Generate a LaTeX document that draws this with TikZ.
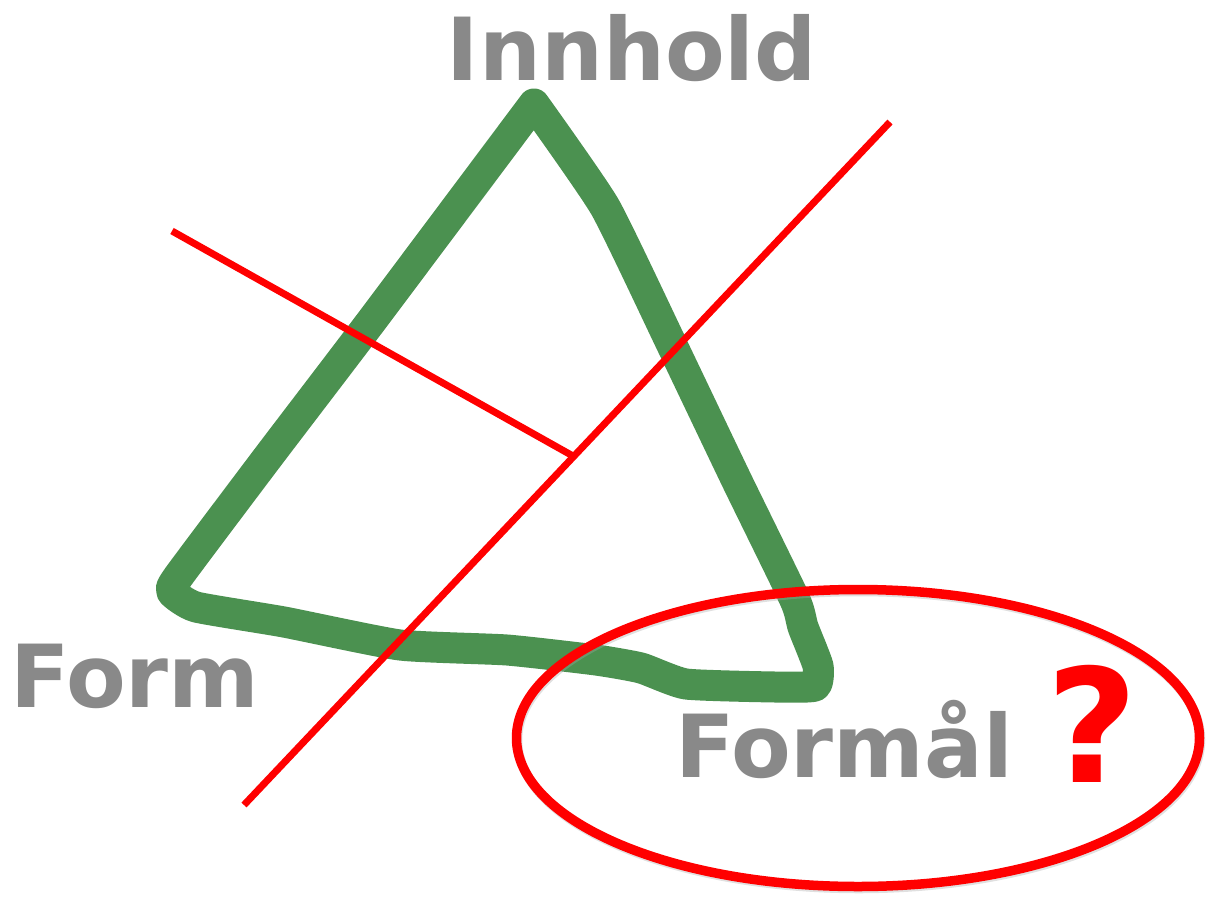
\documentclass[tikz,border=0pt]{standalone}
\usepackage{fontspec}
\setmainfont{DejaVu Sans}
\usetikzlibrary{shapes.geometric}
\definecolor{tgreen}{RGB}{75,145,80}
\definecolor{tgray}{RGB}{137,137,137}
\definecolor{tred}{RGB}{255,0,0}
\tikzset{
  lbl/.style={inner sep=0pt, text=tgray, font=\fontsize{87}{87}\selectfont\bfseries},
  shad/.style={preaction={draw=black!35, opacity=0.35, transform canvas={shift={(1pt,-2pt)}}}},
  redline/.style={draw=tred, line width=7pt, shad},
  tri/.style={draw=tgreen, line width=31pt, line join=round, line cap=round}
}
\begin{document}
\begin{tikzpicture}[x=1pt,y=-1pt]
\useasboundingbox (0,0) rectangle (1210,902);
% green triangle
\draw[tri] plot[smooth, tension=0.3] coordinates {
  (534,104) (370,323) (268,457) (178,577) (172,592) (196,607)
  (284,622) (400,645) (507,650) (596,660) (641,668) (686,684) (775,687)
  (815,686) (818,666) (803,627) (795,600) (736,479) (671,343) (605,207) (534,104)};
% red lines
\coordinate (a1) at (172,231);
\coordinate (a2) at (573,456);
\coordinate (b1) at (890,122);
\coordinate (b2) at (244,805);
\draw[redline] (a1) -- (a2);
\draw[redline] (b1) -- (b2);
% red ellipse
\node[draw=tred, line width=9.5pt, shad, ellipse, minimum width=683pt, minimum height=297pt, inner sep=0pt] (ell) at (858,738) {};
% labels
\node[lbl, anchor=base] (innhold) at (632,80) {Innhold};
\node[lbl, anchor=base west] (form) at (10,707) {Form};
\node[lbl, anchor=base west] (formal) at (675,777) {Formål};
\node[inner sep=0pt, anchor=base, text=tred, font=\fontsize{158}{158}\selectfont\bfseries] (q) at (1092,782) {?};
\end{tikzpicture}
\end{document}
